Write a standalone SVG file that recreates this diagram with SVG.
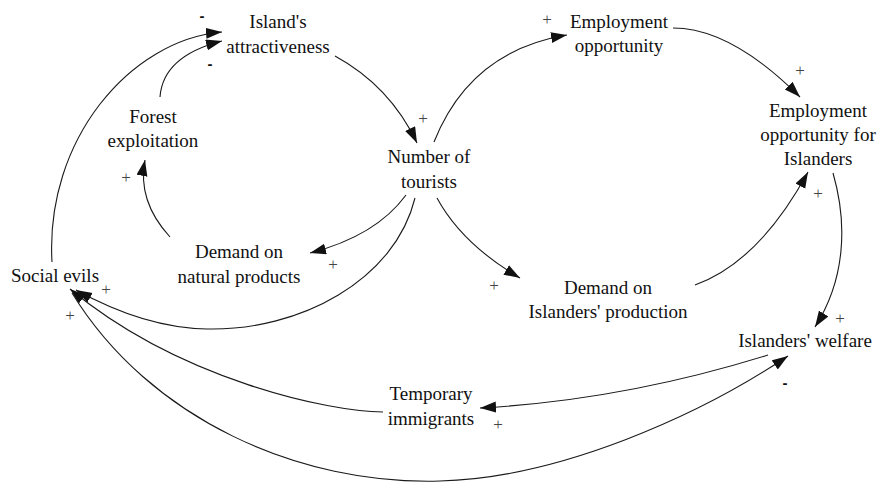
<svg xmlns="http://www.w3.org/2000/svg" width="879" height="482" viewBox="0 0 879 482">
<style>
.lbl{font-family:'Liberation Serif','Times New Roman','DejaVu Serif',serif;font-size:19px;fill:#111;text-anchor:middle}
.pos{font-family:'Liberation Serif','Times New Roman','DejaVu Serif',serif;font-size:17px;fill:#444;text-anchor:middle}
.neg{font-family:'Liberation Sans',Arial,sans-serif;font-size:15px;font-weight:bold;fill:#111;text-anchor:middle}
.link{fill:none;stroke:#1a1a1a;stroke-width:1.1;marker-end:url(#arr)}
</style>
<defs>
<marker id="arr" markerUnits="userSpaceOnUse" markerWidth="17" markerHeight="12" viewBox="0 0 17 12" refX="16" refY="5.5" orient="auto">
<path d="M0,0 L16,5.5 L0,11 z" fill="#111"/>
</marker>
</defs>
<rect width="879" height="482" fill="#fff"/>
<g id="connectors">
<path class="link" d="M335,56 Q390,86 417,143"/>
<path class="link" d="M160,97 Q163,56 222,41"/>
<path class="link" d="M52,262 C45,140 130,40 222,32"/>
<path class="link" d="M170,237 Q137,201 145,160"/>
<path class="link" d="M406,195 Q376,236 310,253"/>
<path class="link" d="M415,198 C395,280 300,331 207,329 C154,328 105,306 76,290"/>
<path class="link" d="M383,412 C330,412 180,380 70,289"/>
<path class="link" d="M72,293 C150,420 300,485 440,481 C560,478 700,415 788,356"/>
<path class="link" d="M768,355 Q624,400 480,408"/>
<path class="link" d="M434,142 Q470,51 567,35"/>
<path class="link" d="M673,28 C720,28 765,62 800,97"/>
<path class="link" d="M833,173 C848,225 845,280 815,327"/>
<path class="link" d="M695,285 Q759,262 808,172"/>
<path class="link" d="M437,198 Q462,244 520,278"/>
</g>
<g id="polarities">
<text class="neg" x="202" y="21">-</text>
<text class="neg" x="210" y="69">-</text>
<text class="neg" x="785" y="388">-</text>
<text class="pos" x="423" y="124">+</text>
<text class="pos" x="126" y="183">+</text>
<text class="pos" x="547" y="25">+</text>
<text class="pos" x="800" y="76">+</text>
<text class="pos" x="818" y="199">+</text>
<text class="pos" x="333" y="270">+</text>
<text class="pos" x="106" y="295">+</text>
<text class="pos" x="70" y="321">+</text>
<text class="pos" x="494" y="291">+</text>
<text class="pos" x="840" y="324">+</text>
<text class="pos" x="498" y="430">+</text>
</g>
<g id="islands-attractiveness"><text class="lbl" x="278" y="28">Island's</text><text class="lbl" x="278" y="53">attractiveness</text></g>
<g id="forest-exploitation"><text class="lbl" x="153" y="123">Forest</text><text class="lbl" x="153" y="147">exploitation</text></g>
<g id="number-of-tourists"><text class="lbl" x="429" y="163">Number of</text><text class="lbl" x="429" y="188">tourists</text></g>
<g id="demand-natural-products"><text class="lbl" x="239" y="258">Demand on</text><text class="lbl" x="239" y="283">natural products</text></g>
<g id="social-evils"><text class="lbl" x="55" y="282">Social evils</text></g>
<g id="employment-opportunity"><text class="lbl" x="619" y="28">Employment</text><text class="lbl" x="619" y="52">opportunity</text></g>
<g id="employment-opportunity-islanders"><text class="lbl" x="818" y="117">Employment</text><text class="lbl" x="818" y="141">opportunity for</text><text class="lbl" x="818" y="165">Islanders</text></g>
<g id="demand-islanders-production"><text class="lbl" x="608" y="294">Demand on</text><text class="lbl" x="608" y="318">Islanders' production</text></g>
<g id="islanders-welfare"><text class="lbl" x="805" y="347">Islanders' welfare</text></g>
<g id="temporary-immigrants"><text class="lbl" x="431" y="400">Temporary</text><text class="lbl" x="431" y="425">immigrants</text></g>
</svg>
